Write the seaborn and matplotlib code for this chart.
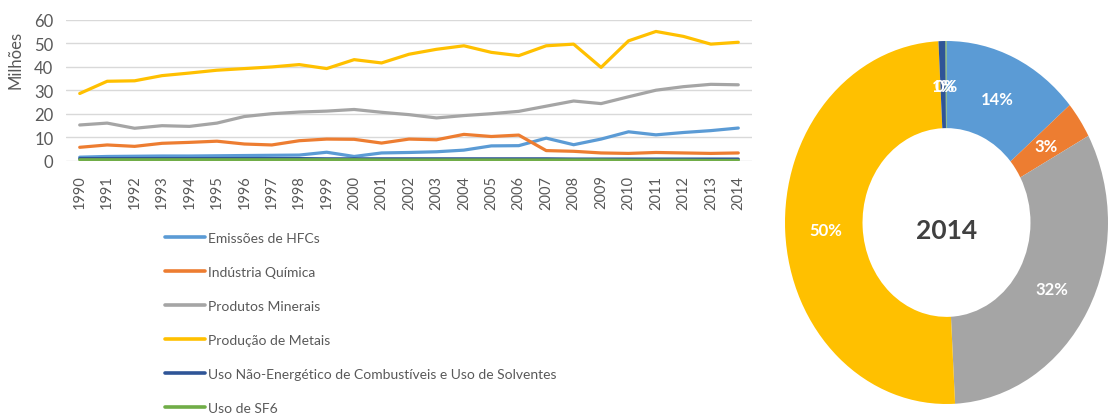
import matplotlib
matplotlib.use("Agg")
import matplotlib.pyplot as plt
from matplotlib.lines import Line2D
import numpy as np
import pandas as pd
import seaborn as sns

# --- data (million t CO2e) ---
anos = list(range(1990, 2015))

hfcs = [1.5, 1.8, 1.9, 2.0, 2.0, 2.1, 2.2, 2.3, 2.4, 3.6, 1.8, 3.3,
        3.5, 3.8, 4.5, 6.3, 6.4, 9.6, 6.8, 9.2, 12.3, 11.0, 12.0, 12.8, 13.9]
quimica = [5.7, 6.7, 6.1, 7.4, 7.8, 8.3, 7.1, 6.7, 8.5, 9.2, 9.1, 7.5,
           9.2, 8.9, 11.2, 10.3, 10.9, 4.3, 4.0, 3.3, 3.1, 3.5, 3.3, 3.1, 3.3]
minerais = [15.2, 16.0, 13.8, 14.9, 14.6, 16.0, 18.8, 20.0, 20.7, 21.1, 21.8, 20.6,
            19.6, 18.2, 19.2, 20.0, 21.0, 23.2, 25.4, 24.3, 27.2, 30.0, 31.5, 32.5, 32.3]
metais = [28.6, 33.8, 34.0, 36.2, 37.3, 38.5, 39.2, 39.9, 40.9, 39.2, 43.0, 41.6,
          45.3, 47.4, 48.9, 46.1, 44.7, 48.9, 49.6, 39.7, 51.0, 55.0, 52.9, 49.6, 50.4]
nao_energetico = [0.9, 0.9, 0.9, 0.9, 0.9, 0.9, 0.9, 0.9, 0.9, 0.8, 0.8, 0.8,
                  0.8, 0.8, 0.8, 0.8, 0.8, 0.8, 0.7, 0.7, 0.7, 0.7, 0.7, 0.7, 0.7]
sf6 = [0.4, 0.4, 0.4, 0.4, 0.4, 0.4, 0.4, 0.4, 0.4, 0.4, 0.4, 0.3,
       0.3, 0.3, 0.3, 0.3, 0.3, 0.3, 0.3, 0.3, 0.2, 0.2, 0.2, 0.1, 0.1]

series = ["Emissões de HFCs", "Indústria Química", "Produtos Minerais",
          "Produção de Metais",
          "Uso Não-Energético de Combustíveis e Uso de Solventes", "Uso de SF6"]
valores = [hfcs, quimica, minerais, metais, nao_energetico, sf6]
cores = ["#5B9BD5", "#ED7D31", "#A5A5A5", "#FFC000", "#2F5597", "#70AD47"]

# shares in the last year feed the doughnut
partes_2014 = [v[-1] for v in valores]

df = pd.DataFrame(
    [(a, s, v) for s, vals in zip(series, valores) for a, v in zip(anos, vals)],
    columns=["Ano", "Série", "Valor"],
)

sns.set_theme(style="white")
plt.rcParams["font.family"] = ["Lato", "DejaVu Sans"]
texto = "#595959"

fig = plt.figure(figsize=(11.09, 4.14), dpi=100)

# --- line chart ---
ax = fig.add_axes([66 / 1109, 1 - 161.7 / 414, 686 / 1109, 141 / 414])
sns.lineplot(data=df, x="Ano", y="Valor", hue="Série", hue_order=series,
             palette=dict(zip(series, cores)), linewidth=2.3, ax=ax,
             legend=False)
ax.set_xlim(1989.5, 2014.5)
ax.set_ylim(0, 60)
ax.set_yticks(range(0, 61, 10))
ax.set_xticks(anos)
ax.set_xticklabels([str(a) for a in anos], rotation=90)
ax.tick_params(axis="x", labelsize=10.5, colors=texto, pad=10, length=0)
ax.tick_params(axis="y", labelsize=12, colors=texto, pad=9, length=0)
ax.grid(axis="y", color="#D9D9D9", linewidth=1)
ax.set_axisbelow(True)
for s in ax.spines.values():
    s.set_visible(False)
ax.set_xlabel("")
ax.set_ylabel("Milhões", fontsize=12, color=texto)
ax.yaxis.set_label_coords(-0.062, 0.72)

handles = [Line2D([0], [0], color=c, linewidth=2.6) for c in cores]
fig.legend(handles, series, loc="upper left",
           bbox_to_anchor=(165 / 1109, 1 - 233 / 414), frameon=False,
           fontsize=10, labelcolor=texto, handlelength=2.9,
           handletextpad=0.2, labelspacing=1.58, borderpad=0,
           borderaxespad=0)

# --- doughnut ---
axp = fig.add_axes([785 / 1109, 1 - 405 / 414, 323 / 1109, 363 / 414])
wedges, _, pcts = axp.pie(
    partes_2014, colors=cores, startangle=90, counterclock=False,
    radius=1.0, pctdistance=0.75,
    autopct=lambda p: f"{p:.0f}%",
    wedgeprops=dict(width=0.48, linewidth=0),
    textprops=dict(color="white", fontsize=12, fontweight="bold"),
)
axp.set_aspect("auto")
axp.set_xlim(-1, 1)
axp.set_ylim(-1, 1)
axp.text(0, -0.04, "2014", ha="center", va="center", fontsize=19,
         color="#404040", fontweight="bold")

fig.savefig("out.png", dpi=100)
